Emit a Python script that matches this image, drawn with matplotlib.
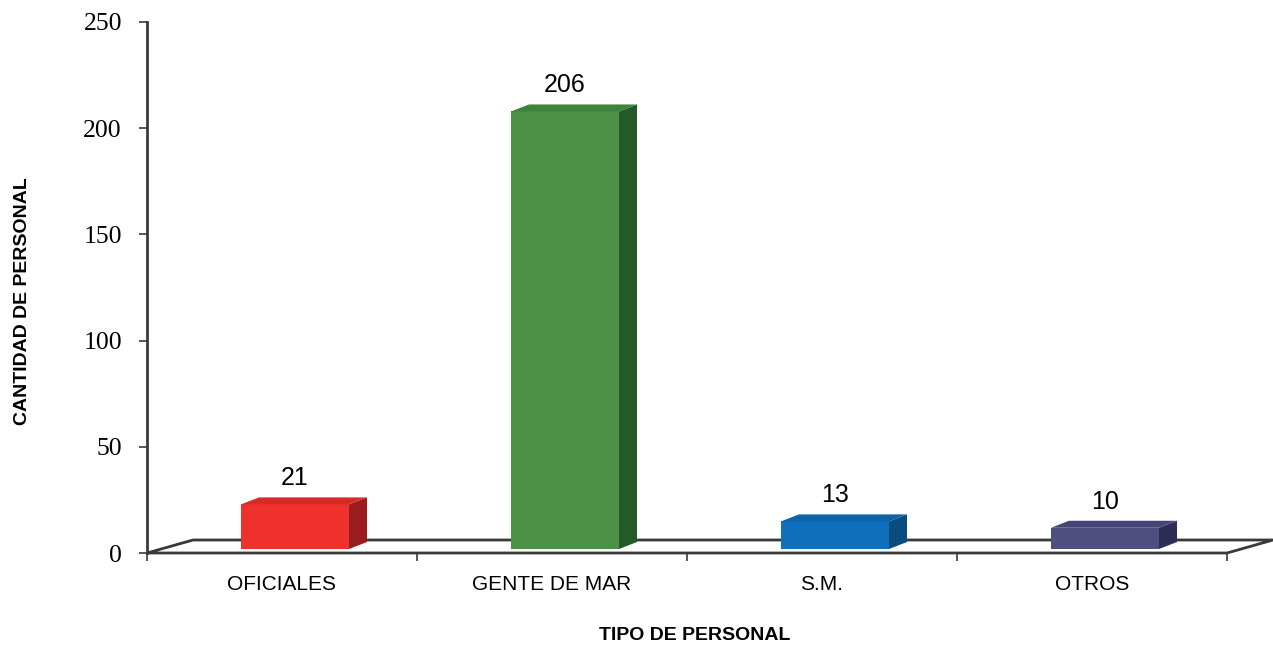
import matplotlib
matplotlib.use('Agg')
import matplotlib.pyplot as plt
from matplotlib.patches import Polygon, Rectangle
from matplotlib import font_manager

# Datos
categorias = ['OFICIALES', 'GENTE DE MAR', 'S.M.', 'OTROS']
cantidades = [21, 206, 13, 10]
marcas_y = [0, 50, 100, 150, 200, 250]

# Colores de cada barra: frente, lado y tapa
frente = ['#EE312C', '#4A9146', '#0F70BD', '#4E4F80']
lado = ['#9B1C1F', '#235A28', '#0A4C80', '#2D2E57']
tapa = ['#D92A28', '#3E823C', '#0D63A8', '#454676']

nombres = {f.name for f in font_manager.fontManager.ttflist}
fuente_cat = 'Liberation Sans Narrow' if 'Liberation Sans Narrow' in nombres else 'Liberation Sans'
tam_cat = 17 if fuente_cat == 'Liberation Sans Narrow' else 15

W, H = 1273, 647
fig = plt.figure(figsize=(W / 100, H / 100), dpi=100)
ax = fig.add_axes([147 / W, (H - 553) / H, 1080 / W, 531 / H])
ax.set_xlim(0, 4)
ax.set_ylim(0, 250)

# escala en pixeles por unidad de datos
px_x = 1080 / 4
px_y = 531 / 250

# profundidad del piso y de las barras (en unidades de datos)
piso_dx, piso_dy = 46 / px_x, 13 / px_y
barra_dx, barra_dy = 18 / px_x, 7 / px_y
off_x, off_y = 13 / px_x, 4 / px_y
ancho = 0.4

gris = '#3a3a3a'

# piso
piso = Polygon([(0, 0), (piso_dx, piso_dy), (4 + piso_dx, piso_dy), (4, 0)],
               closed=True, facecolor='white', edgecolor=gris, lw=2,
               clip_on=False, zorder=1)
ax.add_patch(piso)

for i, v in enumerate(cantidades):
    x0 = i + (1 - ancho) / 2 + off_x
    y0 = off_y
    x1 = x0 + ancho
    y1 = y0 + v
    ax.add_patch(Rectangle((x0, y0), ancho, v, facecolor=frente[i],
                           edgecolor='none', clip_on=False, zorder=3))
    ax.add_patch(Polygon([(x1, y0), (x1 + barra_dx, y0 + barra_dy),
                          (x1 + barra_dx, y1 + barra_dy), (x1, y1)],
                         closed=True, facecolor=lado[i], edgecolor='none',
                         clip_on=False, zorder=3))
    ax.add_patch(Polygon([(x0, y1), (x0 + barra_dx, y1 + barra_dy),
                          (x1 + barra_dx, y1 + barra_dy), (x1, y1)],
                         closed=True, facecolor=tapa[i], edgecolor='none',
                         clip_on=False, zorder=3))
    ax.text(x0 + ancho / 2, y1 + barra_dy + 12 / px_y, str(v),
            ha='center', va='baseline', fontsize=18,
            family='Liberation Sans', zorder=4)

# ejes
for s in ['top', 'right', 'bottom']:
    ax.spines[s].set_visible(False)
ax.spines['left'].set_color(gris)
ax.spines['left'].set_linewidth(2)
ax.spines['left'].set_zorder(2)

ax.set_yticks(marcas_y)
ax.set_yticklabels([str(m) for m in marcas_y], family='Liberation Serif', fontsize=18.5)
ax.tick_params(axis='y', direction='out', length=6, width=1.2, color=gris, pad=12)

ax.set_xticks([0, 1, 2, 3, 4])
ax.set_xticklabels([])
ax.set_xticks([0.5, 1.5, 2.5, 3.5], minor=True)
ax.set_xticklabels(categorias, minor=True, family=fuente_cat, fontsize=tam_cat)
ax.tick_params(axis='x', which='major', direction='out', length=6, width=1.2, color=gris)
ax.tick_params(axis='x', which='minor', length=0, pad=16)

fig.text(695 / W, 1 - 635 / H, 'TIPO DE PERSONAL', ha='center', va='center',
         fontsize=14, fontweight='bold', family='Liberation Sans')
fig.text(23 / W, 1 - 301 / H, 'CANTIDAD DE PERSONAL', ha='center', va='center',
         rotation=90, fontsize=14, fontweight='bold', family='Liberation Sans')

fig.savefig('out.png', dpi=100)
